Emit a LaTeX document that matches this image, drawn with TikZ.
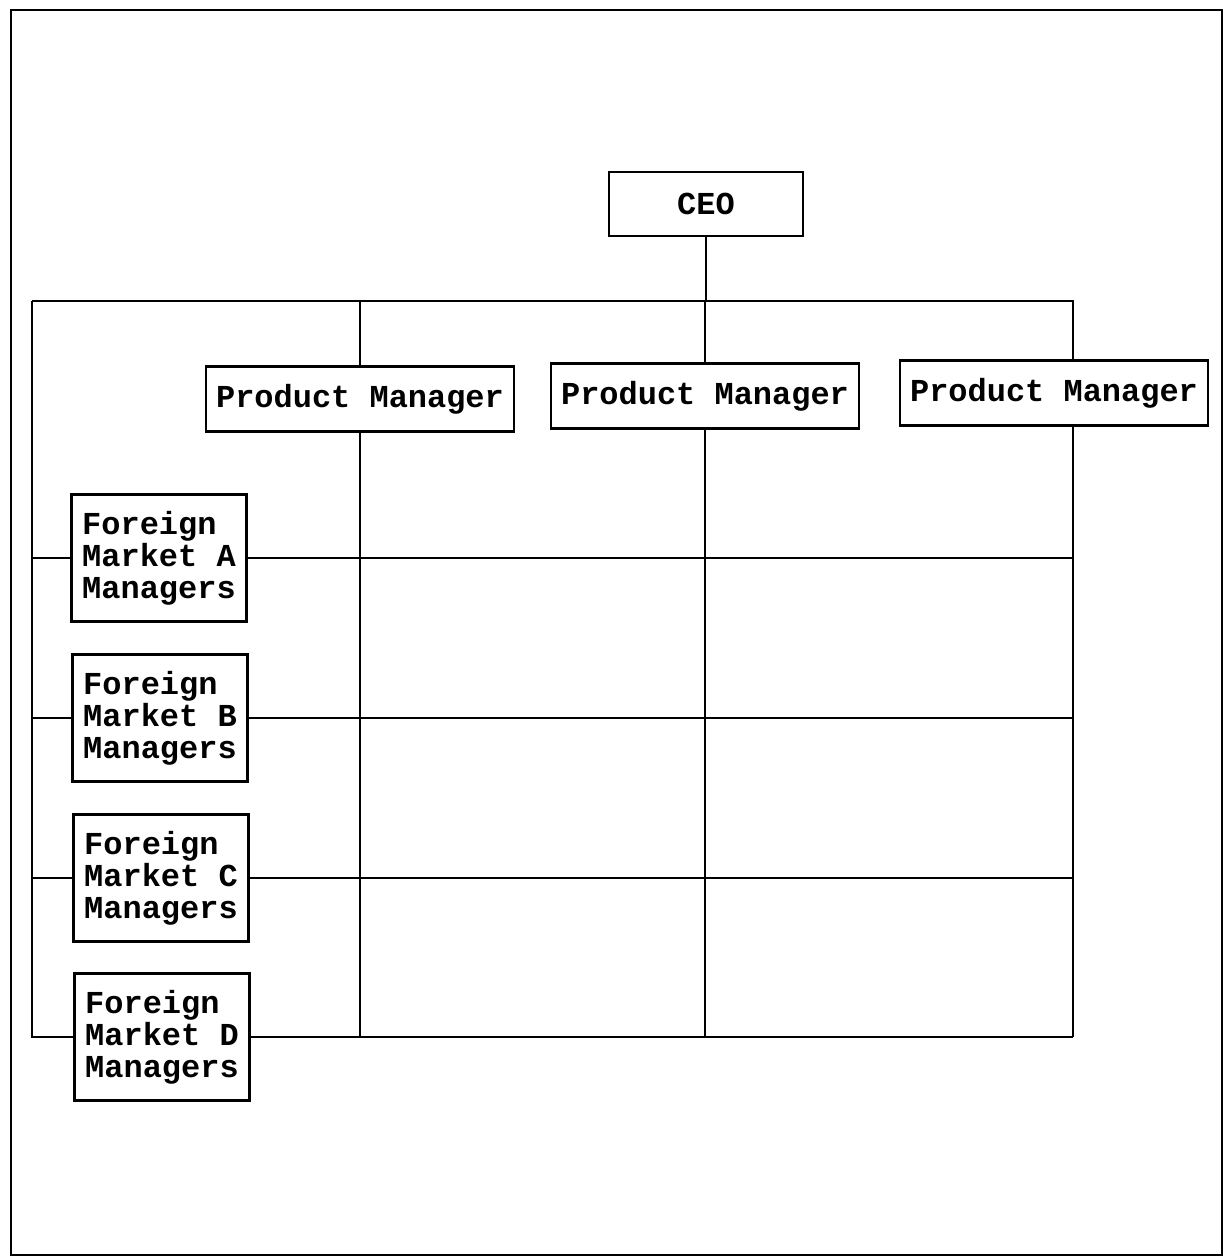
\documentclass[tikz,border=0pt]{standalone}
\usepackage{fontspec}
\setmonofont{Liberation Mono}
\usetikzlibrary{positioning}

\tikzset{
  orgbox/.style={draw, line width=1.4pt, inner sep=0pt, fill=white,
    font=\ttfamily\bfseries\fontsize{18.2}{18.2}\selectfont},
  pmbox/.style={orgbox, minimum width=6.16cm, minimum height=1.3cm},
  fmbox/.style={orgbox, align=left, minimum width=3.5cm, minimum height=2.54cm},
  link/.style={line width=1.4pt}
}

\begin{document}
\begin{tikzpicture}[x=0.02cm, y=-0.02cm]
        \useasboundingbox (0,0) rectangle (1230,1259);
        % page frame
        \draw[link] (11,10) rectangle (1222,1255);

        % top of the chart
        \node[orgbox, minimum width=3.88cm, minimum height=1.28cm] (ceo) at (706,204) {CEO};
        \node[pmbox] (pmA) at (360,399) {Product Manager};
        \node[pmbox] (pmB) at (705,396) {Product Manager};
        \node[pmbox] (pmC) at (1054,393) {Product Manager};

        % foreign markets
        \node[fmbox] (fmA) at (159,558) {Foreign\\Market A\\Managers};
        \node[fmbox] (fmB) at (160,718) {Foreign\\Market B\\Managers};
        \node[fmbox] (fmC) at (161,878) {Foreign\\Market C\\Managers};
        \node[fmbox] (fmD) at (162,1037) {Foreign\\Market D\\Managers};

        \coordinate (busL) at (32,301);
        \coordinate (busR) at (1073,301);

        % bus
        \draw[link] (ceo.south) -- (ceo.south |- busL);
        \draw[link] (busL) -- (busR) -- (busR |- pmC.north);
        \draw[link] (pmA.north) -- (pmA.north |- busL);
        \draw[link] (pmB.north) -- (pmB.north |- busL);
        \draw[link] (busL) |- (fmD.west);
        \foreach \m in {fmA, fmB, fmC}
            \draw[link] (busL |- \m.west) -- (\m.west);

        % matrix
        \foreach \m in {fmA, fmB, fmC, fmD}
            \draw[link] (\m.east) -- (\m.east -| busR);
        \draw[link] (pmA.south) -- (pmA.south |- fmD.east);
        \draw[link] (pmB.south) -- (pmB.south |- fmD.east);
        \draw[link] (busR |- pmC.south) -- (busR |- fmD.east);
    \end{tikzpicture}
\end{document}
